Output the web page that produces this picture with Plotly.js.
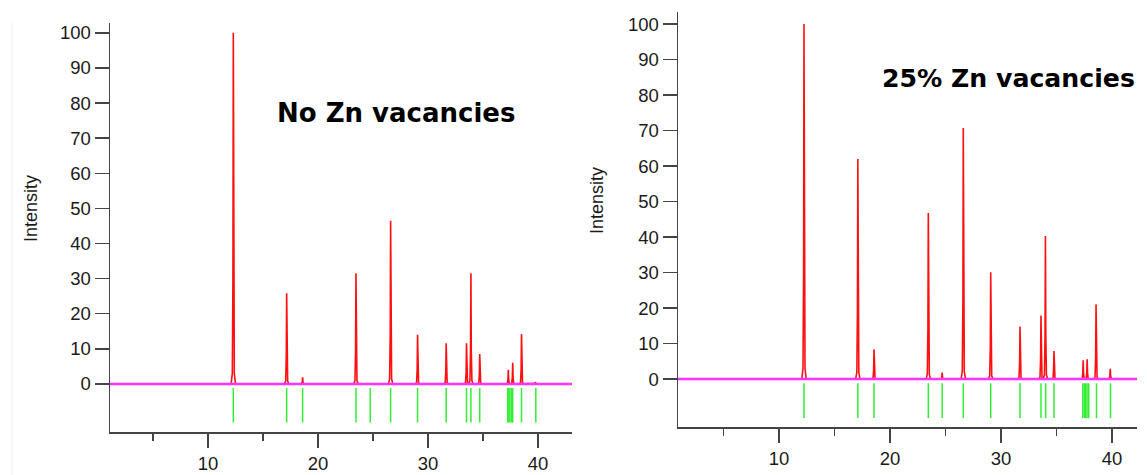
<!DOCTYPE html>
<html>
<head>
<meta charset="utf-8">
<script src="https://cdn.plot.ly/plotly-3.0.1.min.js"></script>
<style>html,body{margin:0;padding:0;background:#fff;}#chart{width:1147px;height:475px;}</style>
</head>
<body>
<div id="chart"></div>
<script>
// ---- Data ----
// Left panel: No Zn vacancies
const leftPeakPos = [12.3, 17.15, 18.6, 23.45, 26.6, 29.05, 31.65, 33.5, 33.9, 34.7, 37.3, 37.7, 38.5, 39.75];
const leftPeakInt = [100, 25.8, 1.9, 31.5, 46.5, 14, 11.6, 11.6, 31.5, 8.5, 4, 6, 14.2, 0.5];
const leftReflPos = [12.3, 17.15, 18.6, 23.45, 24.75, 26.6, 29.05, 31.65, 33.5, 33.9, 34.7, 37.25, 37.35, 37.45, 37.6, 37.7, 38.5, 39.8];
// Right panel: 25% Zn vacancies
const rightPeakPos = [12.25, 17.1, 18.56, 23.45, 24.7, 26.6, 29.07, 31.71, 33.6, 34.0, 34.77, 37.4, 37.76, 38.56, 39.84];
const rightPeakInt = [100, 62, 8.4, 46.8, 1.8, 70.7, 30.1, 14.8, 17.9, 40.3, 7.9, 5.3, 5.6, 21, 2.9];
const rightReflPos = [12.25, 17.1, 18.56, 23.45, 24.7, 26.6, 29.07, 31.71, 33.6, 34.02, 34.77, 37.36, 37.5, 37.62, 37.75, 37.9, 38.6, 39.86];
// Ticks and texts
const yTickVals = [0, 10, 20, 30, 40, 50, 60, 70, 80, 90, 100];
const xTickVals = [10, 20, 30, 40];
const xMinorVals = [5, 15, 25, 35];
const yLabel = "Intensity";
const titles = ["No Zn vacancies", "25% Zn vacancies"];

// ---- Styling / geometry ----
const W = 1147, H = 475;
const px = v => v / W, py = v => 1 - v / H;
const shapeOff = [-0.2, -0.09, -0.035, 0, 0.035, 0.09, 0.2];
const shapeFrac = [0, 0.03, 0.3, 1, 0.3, 0.03, 0];

function profile(pos, inten, xmin, xmax) {
  const xs = [xmin], ys = [0];
  pos.forEach((p, i) => {
    shapeOff.forEach((o, k) => { xs.push(p + o); ys.push(inten[i] * shapeFrac[k]); });
  });
  xs.push(xmax); ys.push(0);
  return {xs, ys};
}
function reflections(pos) {
  const xs = [], ys = [];
  pos.forEach(p => { xs.push(p, p, null); ys.push(-1.2, -11, null); });
  return {xs, ys};
}

const panels = [
  {pos: leftPeakPos, inten: leftPeakInt, refl: leftReflPos, xr: [1.09, 43.09], yr: [-13.7, 102.8], xa: 'x', ya: 'y'},
  {pos: rightPeakPos, inten: rightPeakInt, refl: rightReflPos, xr: [0.9, 42.25], yr: [-13.5, 103.4], xa: 'x2', ya: 'y2'}
];

const traces = [];
panels.forEach(p => {
  const pr = profile(p.pos, p.inten, p.xr[0], p.xr[1]);
  traces.push({x: pr.xs, y: pr.ys, xaxis: p.xa, yaxis: p.ya, mode: 'lines', line: {color: '#ff1010', width: 1.6}, hoverinfo: 'skip'});
  traces.push({x: [p.xr[0], p.xr[1]], y: [0, 0], xaxis: p.xa, yaxis: p.ya, mode: 'lines', line: {color: '#ff33ff', width: 2.5}, hoverinfo: 'skip'});
  const rf = reflections(p.refl);
  traces.push({x: rf.xs, y: rf.ys, xaxis: p.xa, yaxis: p.ya, mode: 'lines', line: {color: '#33ee33', width: 1.5}, hoverinfo: 'skip'});
});

const tickFont = {family: 'Liberation Sans, Arial, sans-serif', size: 18.5, color: '#1a1a1a'};
function xaxisDef(range, dom, anchor) {
  return {domain: dom, range: range, anchor: anchor, showline: true, linecolor: '#444', linewidth: 1.5,
    showgrid: false, zeroline: false, ticks: 'outside', ticklen: 14, tickwidth: 1.5, tickcolor: '#444',
    tickmode: 'array', tickvals: xTickVals, ticktext: xTickVals.map(String), tickfont: tickFont,
    minor: {tickmode: 'array', tickvals: xMinorVals, ticks: 'outside', ticklen: 7, tickwidth: 1.5, tickcolor: '#444', showgrid: false}};
}
function yaxisDef(range, dom, anchor) {
  return {domain: dom, range: range, anchor: anchor, showline: true, linecolor: '#444', linewidth: 1.5,
    showgrid: false, zeroline: false, ticks: 'outside', ticklen: 14, tickwidth: 1.5, tickcolor: '#444',
    tickmode: 'array', tickvals: yTickVals, ticktext: yTickVals.map(String), tickfont: tickFont};
}

const labelFont = {family: 'Liberation Sans, Arial, sans-serif', size: 18, color: '#1a1a1a'};
const layout = {
  width: W, height: H, margin: {l: 0, r: 0, t: 0, b: 0},
  paper_bgcolor: '#fff', plot_bgcolor: 'rgba(0,0,0,0)', showlegend: false,
  xaxis: xaxisDef(panels[0].xr, [px(110), px(572)], 'y'),
  yaxis: yaxisDef(panels[0].yr, [py(432), py(23)], 'x'),
  xaxis2: xaxisDef(panels[1].xr, [px(678), px(1137)], 'y2'),
  yaxis2: yaxisDef(panels[1].yr, [py(427), py(12)], 'x2'),
  shapes: [
    {type: 'line', xref: 'paper', yref: 'paper', x0: px(12), x1: px(12), y0: 0, y1: py(23), line: {color: '#eeeeee', width: 1}}
  ],
  annotations: [
    {text: yLabel, xref: 'paper', yref: 'paper', x: px(31), y: py(209), textangle: -90, showarrow: false, xanchor: 'center', yanchor: 'middle', font: labelFont},
    {text: yLabel, xref: 'paper', yref: 'paper', x: px(597), y: py(201), textangle: -90, showarrow: false, xanchor: 'center', yanchor: 'middle', font: labelFont},
    {text: '<b>' + titles[0] + '</b>', xref: 'paper', yref: 'paper', x: px(275), y: py(113), showarrow: false, xanchor: 'left', yanchor: 'middle', font: {family: 'DejaVu Sans, sans-serif', size: 26, color: '#000'}},
    {text: '<b>' + titles[1] + '</b>', xref: 'paper', yref: 'paper', x: px(880), y: py(78), showarrow: false, xanchor: 'left', yanchor: 'middle', font: {family: 'DejaVu Sans, sans-serif', size: 25.2, color: '#000'}}
  ]
};

Plotly.newPlot('chart', traces, layout, {staticPlot: true, displayModeBar: false});
</script>
</body>
</html>
